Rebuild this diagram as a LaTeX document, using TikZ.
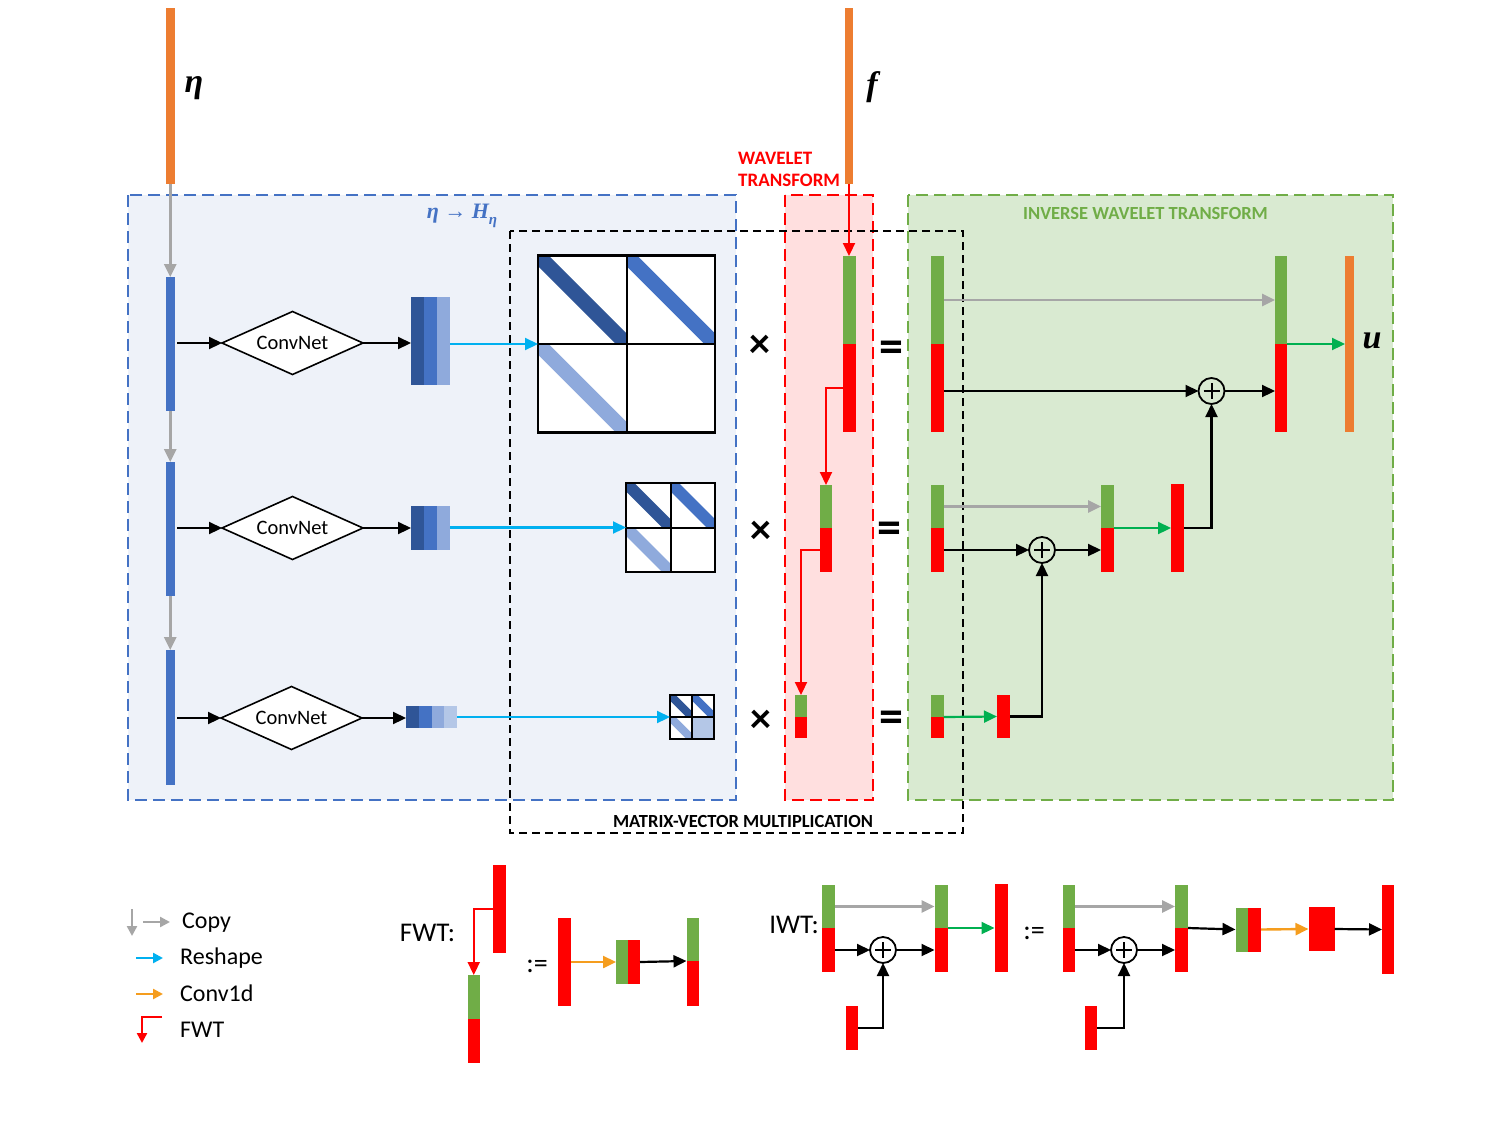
\documentclass[tikz,border=0pt]{standalone}
\usepackage{fontspec}
\setmainfont{Carlito}
\newfontfamily\mathlbl{Liberation Serif}
\usetikzlibrary{arrows.meta,shapes.geometric,calc}
\definecolor{cgreen}{HTML}{70AD47}
\definecolor{cred}{HTML}{FF0000}
\definecolor{corange}{HTML}{ED7D31}
\definecolor{cblue}{HTML}{4472C4}
\definecolor{cdblue}{HTML}{2F5597}
\definecolor{clblue}{HTML}{8FAADC}
\definecolor{cllblue}{HTML}{B4C7E7}
\definecolor{ccyan}{HTML}{00B0F0}
\definecolor{cgray}{HTML}{A6A6A6}
\definecolor{cconv}{HTML}{F59D1E}
\definecolor{carrowgreen}{HTML}{00B050}
\definecolor{bgblue}{HTML}{EEF2F9}
\definecolor{bgred}{HTML}{FFDFDF}
\definecolor{bggreen}{HTML}{D9EAD1}
\newcommand{\myfs}[1]{\fontsize{#1}{#1}\selectfont}
\newcommand{\myfsl}[2]{\fontsize{#1}{#2}\selectfont}
\tikzset{
  barbox/.style={rectangle, inner sep=0pt, outer sep=0pt, draw=none},
  arr/.style={line width=2.2pt, -{Triangle[length=13pt,width=12pt]}},
  larr/.style={line width=2.4pt, -{Triangle[length=10pt,width=10pt]}},
  blk/.style={arr, draw=black},
  gry/.style={arr, draw=cgray, line width=2.6pt},
  cyn/.style={arr, draw=ccyan},
  grn/.style={arr, draw=carrowgreen},
  redarr/.style={arr, draw=cred},
  cnv/.style={arr, draw=cconv, line width=2.4pt},
  convnet/.style={diamond, draw, line width=1.6pt, fill=white, minimum width=141pt,
    minimum height=63pt, inner sep=0pt, outer sep=0pt, aspect=2.2, font=\myfs{20.5}},
  plusc/.style={circle, draw, line width=1.8pt, minimum size=26pt, inner sep=0pt, outer sep=0pt},
  lbl/.style={font=\myfs{24}, anchor=west, inner sep=0pt},
  regionb/.style={line width=1.8pt, dash pattern=on 12pt off 6pt},
  timessym/.style={font=\bfseries\myfs{42}, inner sep=0pt, anchor=base},
  eqsym/.style={font=\bfseries\myfs{48}, inner sep=0pt, anchor=base},
  caplbl/.style={font=\bfseries\myfs{18.5}, inner sep=0pt},
  mlbl/.style={font=\mathlbl\bfseries\itshape\myfs{34}, inner sep=0pt}
}
% bar node: name, colour, x1, y1, x2, y2
\newcommand{\bnode}[6]{\node[barbox,fill=#2,minimum width={#5-#3},minimum height={#6-#4}] (#1) at ({(#3+#5)/2},{(#4+#6)/2}) {};}
% plus node: name, x, y, half arm
\newcommand{\plusnode}[4]{\node[plusc] (#1) at (#2,#3) {};
  \draw[line width=2pt] ($(#1.center)+(-#4,0)$) -- ($(#1.center)+(#4,0)$);
  \draw[line width=2pt] ($(#1.center)+(0,-#4)$) -- ($(#1.center)+(0,#4)$);}
% wavelet matrix: name, cx, cy, half, band width, bottom-right fill
\newcommand{\wmat}[6]{%
  \node[rectangle, minimum size={2*#4}, inner sep=0pt, outer sep=0pt, fill=white] (#1) at (#2,#3) {};
  \fill[#6] (#2,#3) rectangle ({#2+#4},{#3+#4});
  \begin{scope}\clip ({#2-#4},{#3-#4}) rectangle (#2,#3);
    \draw[cdblue, line width=#5] ({#2-#4},{#3-#4}) -- (#2,#3);\end{scope}
  \begin{scope}\clip (#2,{#3-#4}) rectangle ({#2+#4},#3);
    \draw[cblue, line width=#5] (#2,{#3-#4}) -- ({#2+#4},#3);\end{scope}
  \begin{scope}\clip ({#2-#4},#3) rectangle (#2,{#3+#4});
    \draw[clblue, line width=#5] ({#2-#4},#3) -- (#2,{#3+#4});\end{scope}
  \draw[line width=2pt] ({#2-#4},#3) -- ({#2+#4},#3);
  \draw[line width=2pt] (#2,{#3-#4}) -- (#2,{#3+#4});
  \draw[line width=2.4pt] (#1.north west) rectangle (#1.south east);}
\begin{document}
\begin{tikzpicture}[x=1pt,y=-1pt]
\fill[white] (0,0) rectangle (1500,1125);
\useasboundingbox (0,0) rectangle (1500,1125);

% regions
\draw[regionb, draw=cblue, fill=bgblue] (128,195) rectangle (736,800);
\draw[regionb, draw=cred, fill=bgred] (785,195) rectangle (873,800);
\draw[regionb, draw=cgreen, fill=bggreen] (908,195) rectangle (1393,800);
\draw[black, line width=1.8pt, dash pattern=on 8pt off 5pt] (510,231) rectangle (963,833);

% region labels
\node[font=\mathlbl\bfseries\itshape\myfs{22}, text=cblue, inner sep=0pt] (lH) at (462,216) {η {\upshape→} H\raisebox{-0.3em}{\myfs{15}η}};
\node[caplbl, text=cred, align=left, anchor=west, font=\bfseries\myfsl{19}{22}] (lWT) at (738,169) {WAVELET\\TRANSFORM};
\node[caplbl, text=cgreen] (lIWT) at (1145.5,213) {INVERSE WAVELET TRANSFORM};
\node[caplbl] (lMV) at (743,821) {MATRIX-VECTOR MULTIPLICATION};

% left column
\bnode{eta}{corange}{166}{8}{174.5}{184}
\node[mlbl] (leta) at (194,88) {η};
\bnode{b1}{cblue}{166}{277}{174.5}{411}
\bnode{b2}{cblue}{166}{462}{174.5}{596}
\bnode{b3}{cblue}{166}{650}{174.5}{785}
\draw[gry] (eta.south) -- (b1.north);
\draw[gry] (b1.south) -- (b2.north);
\draw[gry] (b2.south) -- (b3.north);

\node[convnet] (d1) at (292.5,343) {ConvNet};
\node[convnet] (d2) at (292.5,528) {ConvNet};
\node[convnet] (d3) at (291.5,718) {ConvNet};
\draw[blk, shorten <=2.5pt] (b1.east |- d1.west) -- (d1.west);
\draw[blk, shorten <=2.5pt] (b2.east |- d2.west) -- (d2.west);
\draw[blk, shorten <=2.5pt] (b3.east |- d3.west) -- (d3.west);

\bnode{s11}{cdblue}{411}{297}{424}{385}
\bnode{s12}{cblue}{424}{297}{437}{385}
\bnode{s13}{clblue}{437}{297}{450}{385}
\bnode{s21}{cdblue}{411}{506}{424}{550}
\bnode{s22}{cblue}{424}{506}{437}{550}
\bnode{s23}{clblue}{437}{506}{450}{550}
\bnode{s31}{cdblue}{406}{706}{418.75}{728}
\bnode{s32}{cblue}{418.75}{706}{431.5}{728}
\bnode{s33}{clblue}{431.5}{706}{444.25}{728}
\bnode{s34}{cllblue}{444.25}{706}{457}{728}
\draw[blk] (d1.east) -- (s11.west |- d1.east);
\draw[blk] (d2.east) -- (s21.west |- d2.east);
\draw[blk] (d3.east) -- (s31.west |- d3.east);

\wmat{M1}{626.5}{344}{88.5}{15}{white}
\wmat{M2}{670.5}{527.5}{44.5}{12}{white}
\wmat{M3}{692}{717}{22}{8}{cllblue}
\draw[cyn] (s13.east |- M1.west) -- (M1.west);
\draw[cyn] (s23.east |- M2.west) -- (M2.west);
\draw[cyn] (s34.east |- M3.west) -- (M3.west);

% operators
\node[timessym] (x1) at (760,357) {×};
\node[timessym] (x2) at (761,543) {×};
\node[timessym] (x3) at (761,732) {×};
\node[eqsym] (q1) at (891,362) {=};
\node[eqsym] (q2) at (889.5,543) {=};
\node[eqsym] (q3) at (891,732) {=};

% wavelet transform column
\bnode{f}{corange}{845}{8}{853}{184}
\node[mlbl] (lf) at (872,87) {f};
\bnode{gW1}{cgreen}{843}{256}{856}{344}
\bnode{rW1}{cred}{843}{344}{856}{432}
\bnode{gW2}{cgreen}{820}{485}{832}{528}
\bnode{rW2}{cred}{820}{528}{832}{572}
\bnode{gW3}{cgreen}{795}{695}{807}{717}
\bnode{rW3}{cred}{795}{717}{807}{738}
\draw[redarr] (f.south) -- (f.south |- gW1.north);
\draw[redarr] (rW1.west) -| (gW2.north);
\draw[redarr] (rW2.west) -| (gW3.north);

% inverse wavelet transform
\bnode{gA1}{cgreen}{931}{256}{943.5}{344}
\bnode{rA1}{cred}{931}{344}{943.5}{432}
\bnode{gB1}{cgreen}{1275}{256}{1287}{344}
\bnode{rB1}{cred}{1275}{344}{1287}{432}
\bnode{u}{corange}{1345}{256}{1354}{432}
\node[mlbl] (lu) at (1372,341) {u};
\plusnode{p1}{1211.5}{391}{8}
\draw[gry] (gA1.east) -- (gB1.west);
\draw[blk] (rA1.east |- p1.west) -- (p1.west);
\draw[blk] (p1.east) -- (rB1.west |- p1.east);
\draw[grn] (gB1.south east) -- (u.west);

\bnode{gA2}{cgreen}{931}{485}{943.5}{528}
\bnode{rA2}{cred}{931}{528}{943.5}{572}
\bnode{gB2}{cgreen}{1101}{485}{1114}{528}
\bnode{rB2}{cred}{1101}{528}{1114}{572}
\bnode{rC2}{cred}{1171}{484}{1184}{572}
\plusnode{p2}{1042}{550}{8}
\draw[gry] (gA2.east) -- (gB2.west);
\draw[blk] (rA2.east) -- (p2.west);
\draw[blk] (p2.east) -- (rB2.west);
\draw[grn] (gB2.south east) -- (rC2.west);
\draw[blk] (rC2.east) -| (p1.south);

\bnode{gA3}{cgreen}{931}{695}{943.5}{717}
\bnode{rA3}{cred}{931}{717}{943.5}{738}
\bnode{rB3}{cred}{997}{695}{1010}{738}
\draw[grn] (gA3.south east) -- (rB3.west);
\draw[blk] (rB3.east) -| (p2.south);

% legend
\coordinate (lc1a) at (132,909); \coordinate (lc1b) at (132,936);
\coordinate (lc2a) at (143,922); \coordinate (lc2b) at (170,922);
\coordinate (lc3a) at (136,958); \coordinate (lc3b) at (163,958);
\coordinate (lc4a) at (136,994); \coordinate (lc4b) at (163,994);
\coordinate (lc5a) at (162,1017); \coordinate (lc5b) at (142,1043);
\draw[larr, draw=cgray] (lc1a) -- (lc1b);
\draw[larr, draw=cgray] (lc2a) -- (lc2b);
\draw[larr, draw=ccyan] (lc3a) -- (lc3b);
\draw[larr, draw=cconv] (lc4a) -- (lc4b);
\draw[larr, draw=cred] (lc5a) -| (lc5b);
\node[lbl] (tCopy) at (182,923) {Copy};
\node[lbl] (tRes) at (180,958) {Reshape};
\node[lbl] (tConv) at (180,993) {Conv1d};
\node[lbl] (tFwt) at (180,1030) {FWT};

% FWT definition
\node[font=\myfs{27}, inner sep=0pt] (tFWT) at (427.5,933) {FWT:};
\bnode{fR0}{cred}{493}{865}{505.5}{953}
\bnode{fG1}{cgreen}{467.5}{975}{480}{1019}
\bnode{fR1}{cred}{467.5}{1019}{480}{1063}
\draw[redarr] (fR0.west |- 0,909) -| (fG1.north);
\node[font=\myfs{28}, inner sep=0pt] (tdef1) at (537,966) {:=};
\bnode{fR2}{cred}{558}{918}{571}{1006}
\bnode{fG3}{cgreen}{616}{940}{627.5}{984}
\bnode{fR3}{cred}{627.5}{940}{640}{984}
\draw[cnv] (fR2.east) -- (fG3.west);
\bnode{fG4}{cgreen}{686.5}{918}{699}{961}
\bnode{fR4}{cred}{686.5}{961}{699}{1006}
\draw[blk] (fR3.east) -- (fR4.north west);

% IWT definition
\node[font=\myfs{27}, inner sep=0pt] (tIWT) at (794,925) {IWT:};
\bnode{iG1}{cgreen}{822}{885}{835}{928}
\bnode{iR1}{cred}{822}{928}{835}{972}
\bnode{iG2}{cgreen}{934.5}{885}{947.5}{928}
\bnode{iR2}{cred}{934.5}{928}{947.5}{972}
\bnode{iR3}{cred}{994.5}{884}{1007.5}{972}
\bnode{iS1}{cred}{845.5}{1006}{858}{1050}
\plusnode{iP1}{883}{950}{8}
\draw[gry] (iG1.east) -- (iG2.west);
\draw[blk] (iR1.east) -- (iP1.west);
\draw[blk] (iP1.east) -- (iR2.west);
\draw[grn] (iG2.south east) -- (iR3.west);
\draw[blk] (iS1.east) -| (iP1.south);
\node[font=\myfs{28}, inner sep=0pt] (tdef2) at (1034,933) {:=};
\bnode{iG5}{cgreen}{1063}{885}{1075}{928}
\bnode{iR5}{cred}{1063}{928}{1075}{972}
\bnode{iG6}{cgreen}{1175}{885}{1188}{928}
\bnode{iR6}{cred}{1175}{928}{1188}{972}
\bnode{iS2}{cred}{1084.5}{1006}{1097}{1050}
\plusnode{iP2}{1124}{950}{8}
\draw[gry] (iG5.east) -- (iG6.west);
\draw[blk] (iR5.east) -- (iP2.west);
\draw[blk] (iP2.east) -- (iR6.west);
\draw[blk] (iS2.east) -| (iP2.south);
\bnode{iT1}{cgreen}{1235.5}{907.5}{1247.7}{951.5}
\bnode{iT2}{cred}{1247.7}{907.5}{1261}{951.5}
\draw[blk] (iG6.south east) -- (iT1.west);
\bnode{iQ}{cred}{1308.5}{907}{1334.5}{951}
\draw[cnv] (iT2.east) -- (iQ.west);
\bnode{iR7}{cred}{1382}{885}{1394}{974}
\draw[blk] (iQ.east) -- (iR7.west);
\end{tikzpicture}
\end{document}
